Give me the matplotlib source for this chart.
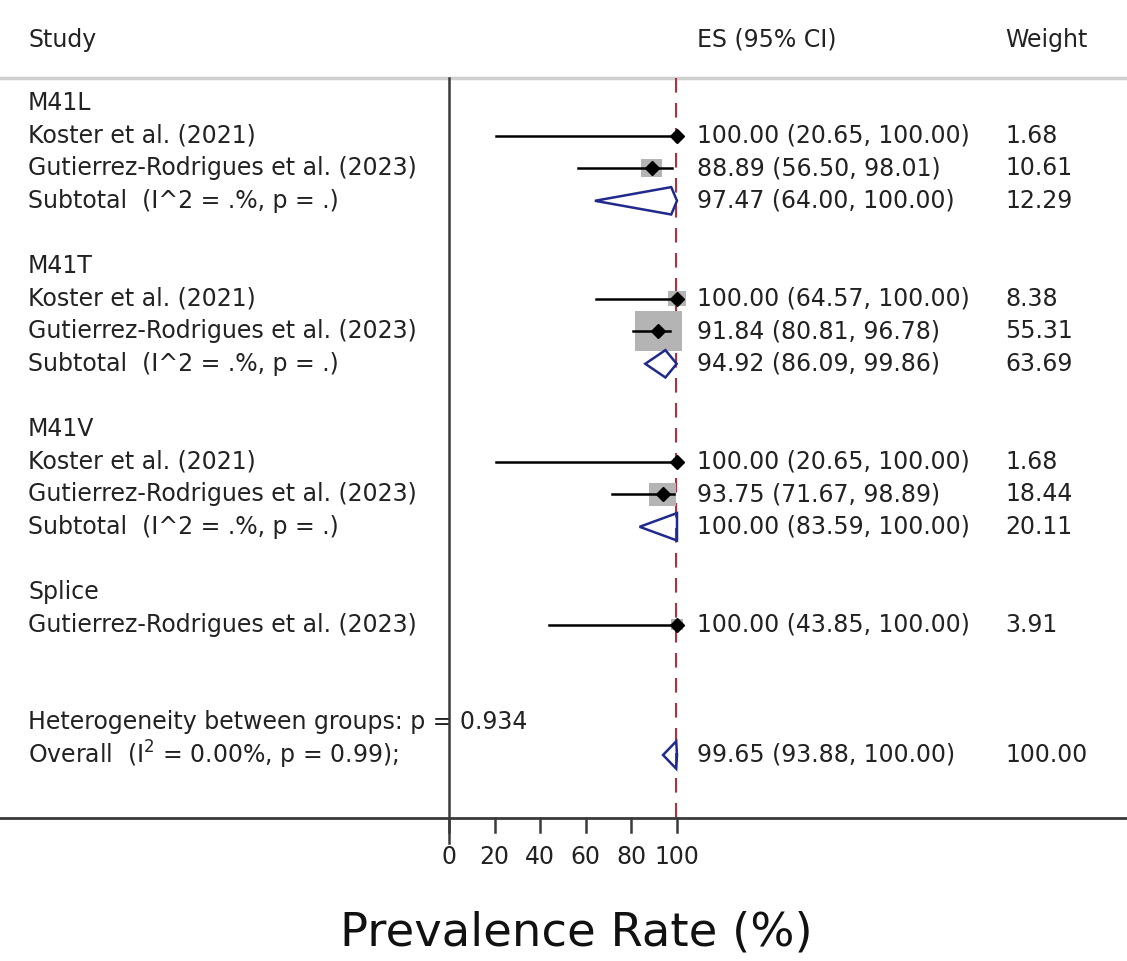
import matplotlib
matplotlib.use("Agg")
import matplotlib.pyplot as plt
from matplotlib.patches import Polygon, Rectangle

# study-level estimates (prevalence %, 95% CI, weight %)
study_group = ["M41L", "M41L", "M41T", "M41T", "M41V", "M41V", "Splice"]
study_names = [
    "Koster et al. (2021)",
    "Gutierrez-Rodrigues et al. (2023)",
    "Koster et al. (2021)",
    "Gutierrez-Rodrigues et al. (2023)",
    "Koster et al. (2021)",
    "Gutierrez-Rodrigues et al. (2023)",
    "Gutierrez-Rodrigues et al. (2023)",
]
study_es = [100.00, 88.89, 100.00, 91.84, 100.00, 93.75, 100.00]
study_lo = [20.65, 56.50, 64.57, 80.81, 20.65, 71.67, 43.85]
study_hi = [100.00, 98.01, 100.00, 96.78, 100.00, 98.89, 100.00]
study_weight = [1.68, 10.61, 8.38, 55.31, 1.68, 18.44, 3.91]

# pooled estimates per subgroup
groups = ["M41L", "M41T", "M41V", "Splice"]
subtotal_group = ["M41L", "M41T", "M41V"]
subtotal_es = [97.47, 94.92, 100.00]
subtotal_lo = [64.00, 86.09, 83.59]
subtotal_hi = [100.00, 99.86, 100.00]
subtotal_weight = [12.29, 63.69, 20.11]

overall_es, overall_lo, overall_hi, overall_weight = 99.65, 93.88, 100.00, 100.00
overall_i2, overall_p = 0.00, 0.99
het_p = 0.934

x_ticks = [0, 20, 40, 60, 80, 100]

W, H = 1127, 961
PX_PER_UNIT = 2.28   # horizontal pixels per percentage point
PX_PER_ROW = 32.6
X0_PX, ROW0_PX = 449, 103

def px_x(px):
    return (px - X0_PX) / PX_PER_UNIT

def px_y(py):
    return (py - ROW0_PX) / PX_PER_ROW

TEXT = "#222222"
NAVY = "#1f2a8c"
DASH_RED = "#b03040"
FONT = "DejaVu Sans"
FS = 17

fig = plt.figure(figsize=(W / 100, H / 100), dpi=100)
ax = fig.add_axes([0, 0, 1, 1])
ax.set_xlim(px_x(0), px_x(W))
ax.set_ylim(px_y(H), px_y(0))
ax.axis("off")

x_label = px_x(28)
x_es = px_x(697)
x_wt = px_x(1005)

def put(x, y, s, **kw):
    ax.text(x, y, s, fontsize=kw.pop("fontsize", FS), family=FONT, color=kw.pop("color", TEXT),
            va="center", ha=kw.pop("ha", "left"), **kw)

def diamond(es, lo, hi, y, h=0.42):
    ax.add_patch(Polygon([(lo, y), (es, y - h), (hi, y), (es, y + h)], closed=True,
                         fill=False, edgecolor=NAVY, lw=1.8, zorder=4))

# header
put(x_label, px_y(40), "Study")
put(x_es, px_y(40), "ES (95% CI)")
put(x_wt, px_y(40), "Weight")

row = 0
for g in groups:
    put(x_label, row, g)
    row += 1
    for i, sg in enumerate(study_group):
        if sg != g:
            continue
        w_px = 6.4 * study_weight[i] ** 0.5
        h_px = 0.85 * w_px
        ax.add_patch(Rectangle((study_es[i] - w_px / 2 / PX_PER_UNIT, row - h_px / 2 / PX_PER_ROW),
                               w_px / PX_PER_UNIT, h_px / PX_PER_ROW,
                               facecolor="#b4b4b4", edgecolor="none", zorder=2))
        ax.plot([study_lo[i], study_hi[i]], [row, row], color="black", lw=1.8, zorder=3)
        ax.plot(study_es[i], row, marker="D", ms=7, color="black", zorder=5)
        put(x_label, row, study_names[i])
        put(x_es, row, f"{study_es[i]:.2f} ({study_lo[i]:.2f}, {study_hi[i]:.2f})")
        put(x_wt, row, f"{study_weight[i]:.2f}")
        row += 1
    if g in subtotal_group:
        j = subtotal_group.index(g)
        diamond(subtotal_es[j], subtotal_lo[j], subtotal_hi[j], row)
        put(x_label, row, "Subtotal  (I^2 = .%, p = .)")
        put(x_es, row, f"{subtotal_es[j]:.2f} ({subtotal_lo[j]:.2f}, {subtotal_hi[j]:.2f})")
        put(x_wt, row, f"{subtotal_weight[j]:.2f}")
        row += 1
    row += 1

row += 1
put(x_label, row, f"Heterogeneity between groups: p = {het_p:.3f}")
row += 1
put(x_label, row, f"Overall  (I$^2$ = {overall_i2:.2f}%, p = {overall_p:.2f});")
diamond(overall_es, overall_lo, overall_hi, row)
put(x_es, row, f"{overall_es:.2f} ({overall_lo:.2f}, {overall_hi:.2f})")
put(x_wt, row, f"{overall_weight:.2f}")

# frame lines
top_y, axis_y = px_y(78), px_y(818)
ax.plot([px_x(0), px_x(W)], [top_y, top_y], color="#cfcfcf", lw=2.5, zorder=1)
ax.plot([px_x(0), px_x(W)], [axis_y, axis_y], color="#3a3a3a", lw=2.0, zorder=6)
ax.plot([0, 0], [top_y, px_y(843)], color="#3a3a3a", lw=1.8, zorder=6)
ax.plot([overall_es, overall_es], [top_y, axis_y], color=DASH_RED, lw=1.5,
        dashes=(7, 5), zorder=1)

for t in x_ticks:
    ax.plot([t, t], [axis_y, px_y(832)], color="#3a3a3a", lw=1.8, zorder=6)
    put(t, px_y(857), str(t), ha="center")

fig.text(576 / W, 1 - 933 / H, "Prevalence Rate (%)", fontsize=33.5, family=FONT,
         color="#111111", ha="center", va="center")

fig.savefig("out.png", dpi=100)
